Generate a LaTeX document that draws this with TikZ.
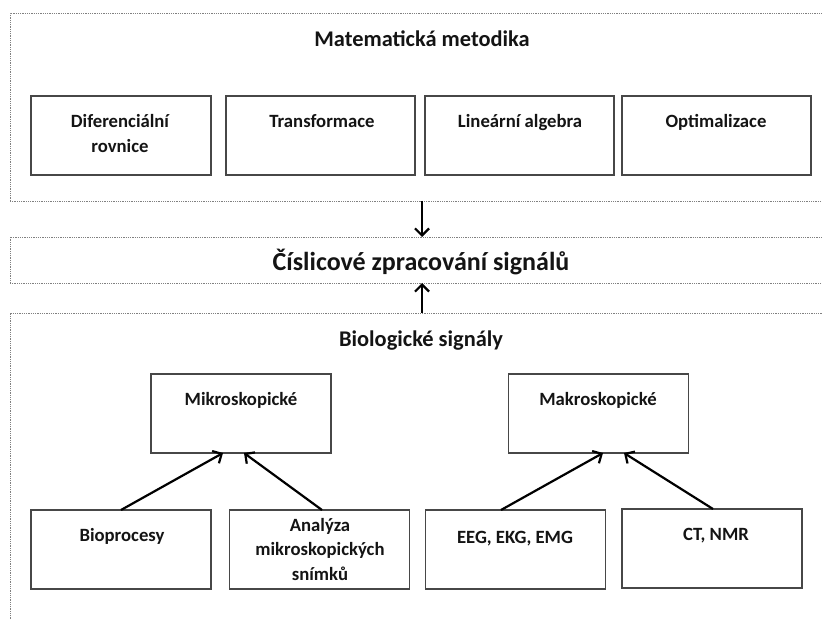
\documentclass[tikz,border=0pt]{standalone}
\usepackage{fontspec}
\setmainfont{Carlito}
\usetikzlibrary{arrows.meta,calc}
\begin{document}
\begin{tikzpicture}[x=1pt,y=-1pt,
  group/.style={draw=black!50, line width=0.9pt, dash pattern=on 1pt off 0.8pt,
    rectangle, inner sep=0pt, outer sep=0pt, minimum width=824pt},
  item/.style={draw=black!72, line width=1.1pt, rectangle, inner sep=0pt,
    outer sep=0pt, minimum width=180pt, minimum height=79pt},
  caption/.style={font=\bfseries\fontsize{18.7}{24.5}\selectfont, align=center,
    text=black!92, anchor=base, inner sep=0pt},
  head/.style={font=\bfseries\fontsize{22.4}{26}\selectfont, text=black!92,
    anchor=base, inner sep=0pt},
  flow/.style={line width=2.2pt, -{Straight Barb[length=7pt,width=14pt]}},
]
\useasboundingbox (0,0) rectangle (822,620);
\clip (0,0) rectangle (822,620);
\fill[white] (0,0) rectangle (822,620);

% three dotted groups, running past the right and bottom edges
\node[group, minimum height=188pt] (math) at (422,107) {};
\node[group, minimum height=46pt]  (dsp)  at (422,260) {};
\node[group, minimum height=347pt] (bio)  at (422,486.5) {};

% group headings
\node[head] (mathhead) at (422,47) {Matematická metodika};
\node[head, font=\bfseries\fontsize{26}{30}\selectfont] (dsphead) at (421,271)
  {Číslicové zpracování signálů};
\node[head] (biohead) at (421,347) {Biologické signály};

% mathematical methods (multi-line captions sit on their last baseline)
\node[item] (dif) at (121,135.5) {};
\node[item, minimum width=189pt] (trans) at (320.5,135.5) {};
\node[item, minimum width=189pt] (lin) at (519.5,135.5) {};
\node[item, minimum width=189pt] (opt) at (716.5,135.5) {};
\node[caption] (diftext) at (120,152.5) {Diferenciální\\rovnice};
\node[caption] (transtext) at (322,128) {Transformace};
\node[caption] (lintext) at (520,128) {Lineární algebra};
\node[caption] (opttext) at (716,128) {Optimalizace};

% biological signals
\node[item] (micro) at (241,413.5) {};
\node[item] (macro) at (598.5,413.5) {};
\node[item] (bioproc) at (121,549.5) {};
\node[item] (anal) at (319.5,549.5) {};
\node[item] (eeg) at (515.5,549.5) {};
\node[item] (ct) at (712,548.5) {};
\node[caption] (microtext) at (241,405) {Mikroskopické};
\node[caption] (macrotext) at (598,405) {Makroskopické};
\node[caption] (bioproctext) at (122,541) {Bioprocesy};
\node[caption] (analtext) at (320,580) {Analýza\\mikroskopických\\snímků};
\node[caption] (eegtext) at (515,543) {EEG, EKG, EMG};
\node[caption] (cttext) at (716,540) {CT, NMR};

% connectors
\draw[flow] (math.south) -- (dsp.north);
\draw[flow] (bio.north) -- (dsp.south);
\draw[flow] (bioproc.north) -- ($(micro.south)+(-18,0)$);
\draw[flow] ($(anal.north)+(2.5,0)$) -- ($(micro.south)+(3,0)$);
\draw[flow] ($(eeg.north)+(-14.5,0)$) -- ($(macro.south)+(4.5,0)$);
\draw[flow] ($(ct.north)+(1,0)$) -- ($(macro.south)+(25.5,0)$);
\end{tikzpicture}
\end{document}
